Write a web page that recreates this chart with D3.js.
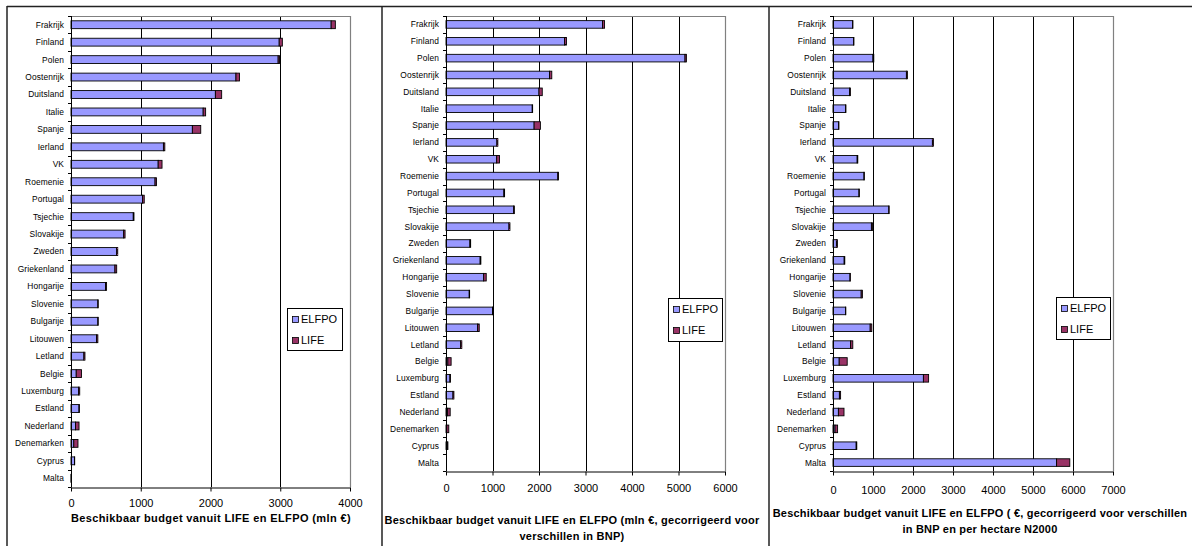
<!DOCTYPE html>
<html>
<head>
<meta charset="utf-8">
<script src="https://cdn.jsdelivr.net/npm/d3@7/dist/d3.min.js"></script>
<style>
  body { margin: 0; background: #fff; }
  svg { display: block; font-family: "Liberation Sans", Arial, sans-serif; }
</style>
</head>
<body>
<svg id="chart" width="1192" height="546"></svg>
<script>
// Categories (top to bottom)
const countries = ['Frakrijk', 'Finland', 'Polen', 'Oostenrijk', 'Duitsland', 'Italie', 'Spanje', 'Ierland', 'VK',
  'Roemenie', 'Portugal', 'Tsjechie', 'Slovakije', 'Zweden', 'Griekenland', 'Hongarije', 'Slovenie', 'Bulgarije',
  'Litouwen', 'Letland', 'Belgie', 'Luxemburg', 'Estland', 'Nederland', 'Denemarken', 'Cyprus', 'Malta'];

// Panel 1: mln €
const elfpoMln = [3730, 2985, 2970, 2365, 2070, 1895, 1740, 1325, 1250, 1205, 1025, 893, 755, 655, 630,
  495, 385, 385, 365, 185, 75, 110, 115, 65, 40, 50, 3];
const lifeMln = [60, 45, 20, 50, 90, 35, 120, 20, 55, 20, 25, 10, 20, 15, 25,
  15, 5, 5, 20, 15, 75, 15, 5, 50, 60, 3, 1];

// Panel 2: mln €, corrected for GNP
const elfpoBnp = [3365, 2550, 5140, 2225, 2000, 1855, 1895, 1095, 1090, 2405, 1245, 1455, 1355, 515, 735,
  810, 500, 1000, 680, 315, 40, 85, 150, 35, 15, 35, 0];
const lifeBnp = [45, 40, 30, 50, 70, 8, 135, 20, 60, 15, 15, 15, 20, 15, 15,
  55, 8, 10, 35, 25, 70, 12, 20, 55, 45, 5, 0];

// Panel 3: €, corrected for GNP and per hectare N2000
const elfpoHa = [490, 515, 1000, 1835, 415, 315, 140, 2485, 605, 775, 650, 1395, 960, 85, 280,
  425, 705, 315, 930, 440, 155, 2260, 160, 135, 50, 580, 5590];
const lifeHa = [8, 8, 20, 25, 20, 8, 8, 25, 15, 8, 8, 8, 30, 25, 15,
  8, 30, 5, 40, 55, 200, 130, 30, 140, 65, 15, 330];

const ticksMln = [0, 1000, 2000, 3000, 4000];
const ticksBnp = [0, 1000, 2000, 3000, 4000, 5000, 6000];
const ticksHa = [0, 1000, 2000, 3000, 4000, 5000, 6000, 7000];

const titleMln = ['Beschikbaar budget vanuit LIFE en ELFPO (mln €)'];
const titleBnp = ['Beschikbaar budget vanuit LIFE en ELFPO (mln €, gecorrigeerd voor', 'verschillen in BNP)'];
const titleHa = ['Beschikbaar budget vanuit LIFE en ELFPO ( €, gecorrigeerd voor verschillen', 'in BNP en per hectare N2000'];

const seriesNames = ['ELFPO', 'LIFE'];
const colors = { ELFPO: '#9999ff', LIFE: '#993366' };

const panels = [
  { elfpo: elfpoMln, life: lifeMln, ticks: ticksMln, title: titleMln,
    x0: 71, x1: 350, y0: 16, y1: 487, tickPad: 8, titleX: 211, titleY: 518, titleSpacing: 0.38,
    legend: { x: 287, y: 308, w: 55, h: 42 } },
  { elfpo: elfpoBnp, life: lifeBnp, ticks: ticksBnp, title: titleBnp,
    x0: 446, x1: 725, y0: 16, y1: 471, tickPad: 9, titleX: 572, titleY: 520, titleSpacing: 0.25,
    legend: { x: 668, y: 298, w: 54, h: 43 } },
  { elfpo: elfpoHa, life: lifeHa, ticks: ticksHa, title: titleHa,
    x0: 833, x1: 1113, y0: 16, y1: 471, tickPad: 11, titleX: 980, titleY: 513, titleSpacing: 0.2,
    legend: { x: 1056, y: 297, w: 54, h: 42 } }
];

const svg = d3.select('#chart');

// Outer frames of the three pasted charts
svg.append('line').attr('x1', 7).attr('x2', 1192).attr('y1', 6.5).attr('y2', 6.5)
  .attr('stroke', '#222').attr('stroke-width', 1.5);
[7, 382, 769].forEach(x => {
  svg.append('line').attr('x1', x).attr('x2', x).attr('y1', 6).attr('y2', 546)
    .attr('stroke', '#222').attr('stroke-width', 1.5);
});

panels.forEach(p => {
  const g = svg.append('g');
  const xMax = p.ticks[p.ticks.length - 1];

  const x = d3.scaleLinear().domain([0, xMax]).range([p.x0, p.x1]);
  const y = d3.scaleBand().domain(countries).range([p.y0, p.y1])
    .paddingInner(0.55).paddingOuter(0.275);
  const gap = y.step() - y.bandwidth();

  // Gridlines
  g.append('g').selectAll('line')
    .data(p.ticks.slice(1, -1))
    .enter().append('line')
    .attr('x1', d => Math.round(x(d)) + 0.5).attr('x2', d => Math.round(x(d)) + 0.5)
    .attr('y1', p.y0).attr('y2', p.y1)
    .attr('stroke', '#000').attr('stroke-width', 1);

  // Plot area border (top / right)
  g.append('path')
    .attr('d', `M${p.x0},${p.y0 + 0.5}H${Math.round(p.x1) + 0.5}V${p.y1}`)
    .attr('fill', 'none').attr('stroke', '#808080').attr('stroke-width', 1.2);

  // Stacked bars
  const rows = countries.map((c, i) => ({ c, elfpo: p.elfpo[i], life: p.life[i] }));
  const stacked = d3.stack().keys(['elfpo', 'life'])(rows);

  g.append('g').selectAll('g')
    .data(stacked)
    .enter().append('g')
    .attr('fill', d => d.key === 'elfpo' ? colors.ELFPO : colors.LIFE)
    .selectAll('rect')
    .data(d => d)
    .enter().append('rect')
    .filter(d => d[1] - d[0] > 0)
    .attr('x', d => x(d[0]))
    .attr('y', d => y(d.data.c))
    .attr('width', d => x(d[1]) - x(d[0]))
    .attr('height', y.bandwidth())
    .attr('stroke', '#000').attr('stroke-width', 0.9);

  // Category axis (ticks at band boundaries)
  g.append('line')
    .attr('x1', p.x0 + 0.5).attr('x2', p.x0 + 0.5).attr('y1', p.y0).attr('y2', p.y1)
    .attr('stroke', '#000');
  const bounds = countries.map(c => y(c) - gap / 2).concat([p.y1]);
  g.append('g').selectAll('line')
    .data(bounds)
    .enter().append('line')
    .attr('x1', p.x0 - 3).attr('x2', p.x0 + 0.5)
    .attr('y1', d => Math.round(d) + 0.5).attr('y2', d => Math.round(d) + 0.5)
    .attr('stroke', '#000');
  g.append('g').selectAll('text')
    .data(countries)
    .enter().append('text')
    .attr('x', p.x0 - 7)
    .attr('y', d => y(d) + y.bandwidth() / 2)
    .attr('dy', '0.35em')
    .attr('text-anchor', 'end')
    .attr('font-size', '8.4px')
    .attr('letter-spacing', '0.1px')
    .attr('fill', '#000')
    .text(d => d);

  // Value axis
  const xAxis = d3.axisBottom(x).tickValues(p.ticks).tickFormat(d3.format('d'))
    .tickSizeInner(4).tickSizeOuter(0).tickPadding(p.tickPad);
  const ax = g.append('g').attr('transform', `translate(0,${p.y1 + 0.5})`).call(xAxis);
  ax.select('.domain').attr('stroke', '#000');
  ax.selectAll('.tick line').attr('stroke', '#000');
  ax.selectAll('.tick text').attr('font-size', '11px').attr('fill', '#000')
    .attr('font-family', '"Liberation Sans", Arial, sans-serif');

  // Axis title
  const t = g.append('text')
    .attr('x', p.titleX).attr('y', p.titleY)
    .attr('text-anchor', 'middle')
    .attr('font-size', '11px').attr('font-weight', 'bold')
    .attr('letter-spacing', p.titleSpacing + 'px')
    .attr('fill', '#000');
  p.title.forEach((line, i) => {
    t.append('tspan').attr('x', p.titleX).attr('dy', i === 0 ? '0.35em' : '1.45em').text(line);
  });

  // Legend
  const L = p.legend;
  const lg = g.append('g').attr('transform', `translate(${L.x},${L.y})`);
  lg.append('rect').attr('x', 0.5).attr('y', 0.5).attr('width', L.w).attr('height', L.h)
    .attr('fill', '#fff').attr('stroke', '#000');
  seriesNames.forEach((name, i) => {
    const cy = 11 + i * 21;
    lg.append('rect').attr('x', 5.5).attr('y', cy - 2.5).attr('width', 6).attr('height', 6)
      .attr('fill', colors[name]).attr('stroke', '#000').attr('stroke-width', 0.8);
    lg.append('text').attr('x', 14).attr('y', cy + 0.5).attr('dy', '0.35em')
      .attr('font-size', '11px').attr('fill', '#000').text(name);
  });
});
</script>
</body>
</html>
